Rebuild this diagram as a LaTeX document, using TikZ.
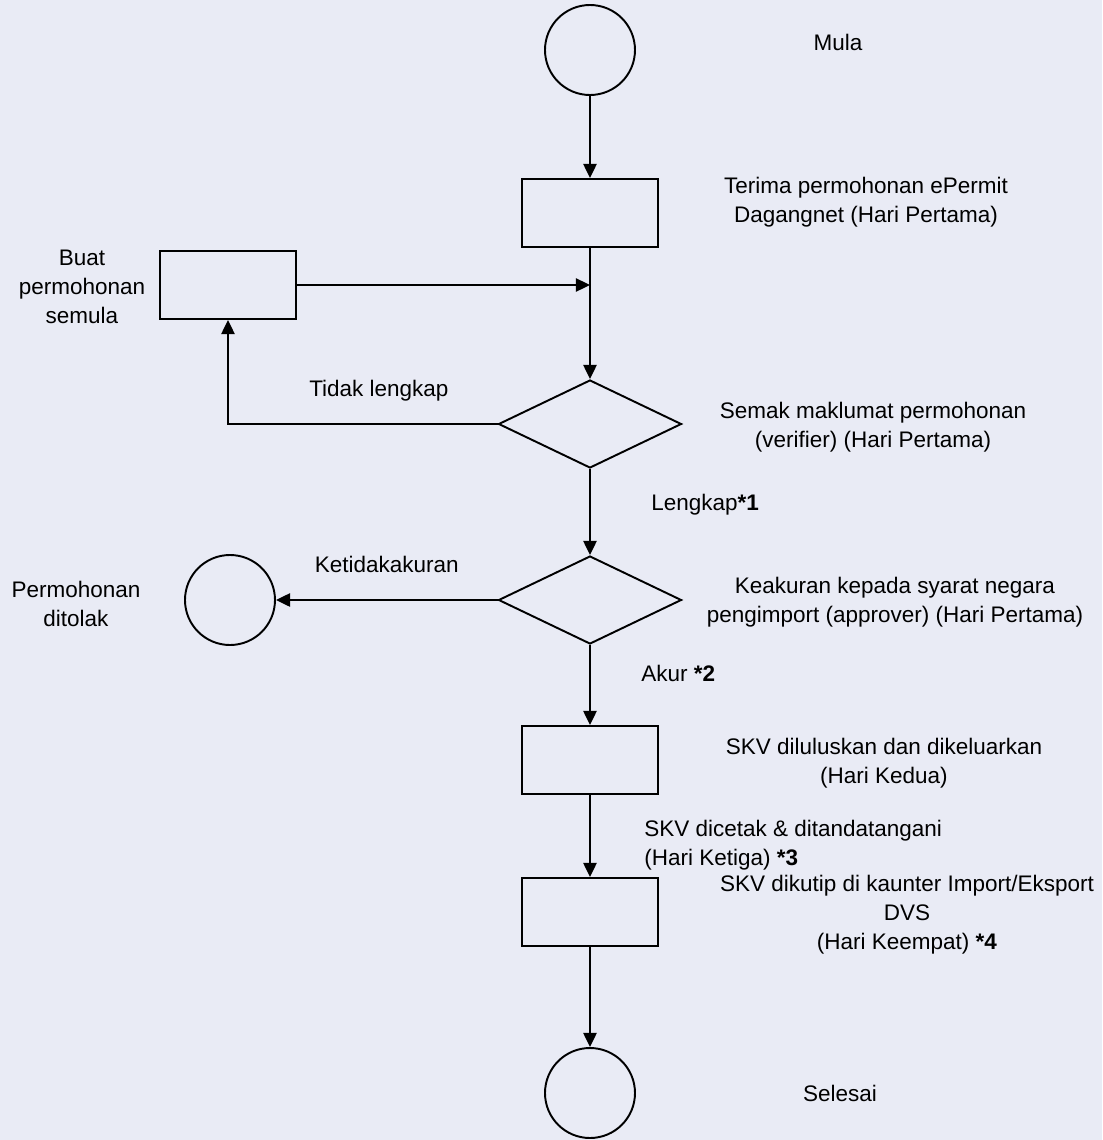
\documentclass[tikz,border=0pt]{standalone}
\usepackage{fontspec}
\setmainfont{Liberation Sans}
\usetikzlibrary{shapes.geometric,arrows.meta}
\definecolor{paper}{RGB}{233,235,245}

\begin{document}
\begin{tikzpicture}[node distance=2cm, auto,
    font=\fontsize{12.8}{16.5}\selectfont,
    line width=1.1pt,
    >={Triangle[length=8pt,width=7.5pt]},
    term/.style={draw, circle, minimum size=1.8cm, inner sep=0pt},
    proc/.style={draw, rectangle, minimum width=2.72cm, minimum height=1.36cm, inner sep=0pt},
    check/.style={draw, diamond, minimum width=3.66cm, minimum height=1.76cm, inner sep=0pt},
    note/.style={align=center}]
  \fill[paper] (-11.8,1.0) rectangle (10.24,-21.8);
  \useasboundingbox (-11.8,1.0) rectangle (10.24,-21.8);

  \node[term] (mula) {};
  \node[proc, below of=mula, node distance=3.26cm] (terima) {};
  \node[check, below of=terima, node distance=4.22cm] (semak) {};
  \node[check, below of=semak, node distance=3.52cm] (akur) {};
  \node[proc, below of=akur, node distance=3.2cm] (lulus) {};
  \node[proc, below of=lulus, node distance=3.04cm] (kutip) {};
  \node[term, below of=kutip, node distance=3.62cm] (selesai) {};

  \node[proc, left of=terima, node distance=7.24cm, yshift=-1.44cm] (buat) {};
  \node[term, left of=akur, node distance=7.2cm] (tolak) {};

  \node[note, right of=mula, node distance=4.96cm, yshift=0.16cm] (mulatext) {Mula};
  \node[note, right of=terima, node distance=5.52cm, yshift=0.22cm] (terimatext)
    {Terima permohonan ePermit\\Dagangnet (Hari Pertama)};
  \node[note, right of=semak, node distance=5.66cm, yshift=-0.06cm] (semaktext)
    {Semak maklumat permohonan\\(verifier) (Hari Pertama)};
  \node[note, right of=akur, node distance=6.1cm, yshift=-0.04cm] (akurtext)
    {Keakuran kepada syarat negara\\pengimport (approver) (Hari Pertama)};
  \node[note, right of=lulus, node distance=5.88cm, yshift=-0.06cm] (lulustext)
    {SKV diluluskan dan dikeluarkan\\(Hari Kedua)};
  \node[note, right of=kutip, node distance=6.34cm, yshift=-0.06cm] (kutiptext)
    {SKV dikutip di kaunter Import/Eksport\\DVS\\(Hari Keempat) \textbf{*4}};
  \node[note, right of=selesai, node distance=5.0cm] (selesaitext) {Selesai};
  \node[note, left of=buat, node distance=2.92cm, yshift=-0.04cm] (buattext) {Buat\\permohonan\\semula};
  \node[note, left of=tolak, node distance=3.08cm, yshift=-0.08cm] (tolaktext)
    {Permohonan\\ditolak};

  \draw[->] (mula) to (terima);
  \draw[->] (terima) to (semak);
  \draw[->] (buat.east) -- (buat.east -| terima.south);
  \draw[->] (semak) -| node[pos=0.22, above=0.33cm]{Tidak lengkap} (buat);
  \draw[->] (semak) to node[right, xshift=1.09cm, yshift=0.14cm]{Lengkap\textbf{*1}} (akur);
  \draw[->] (akur) to node[above=0.41cm]{Ketidakakuran} (tolak);
  \draw[->] (akur) to node[right, xshift=0.89cm, yshift=0.24cm]{Akur \textbf{*2}} (lulus);
  \draw[->] (lulus) to node[right, align=left, xshift=0.95cm, yshift=-0.18cm]
    {SKV dicetak \& ditandatangani\\(Hari Ketiga) \textbf{*3}} (kutip);
  \draw[->] (kutip) to (selesai);

\end{tikzpicture}
\end{document}
